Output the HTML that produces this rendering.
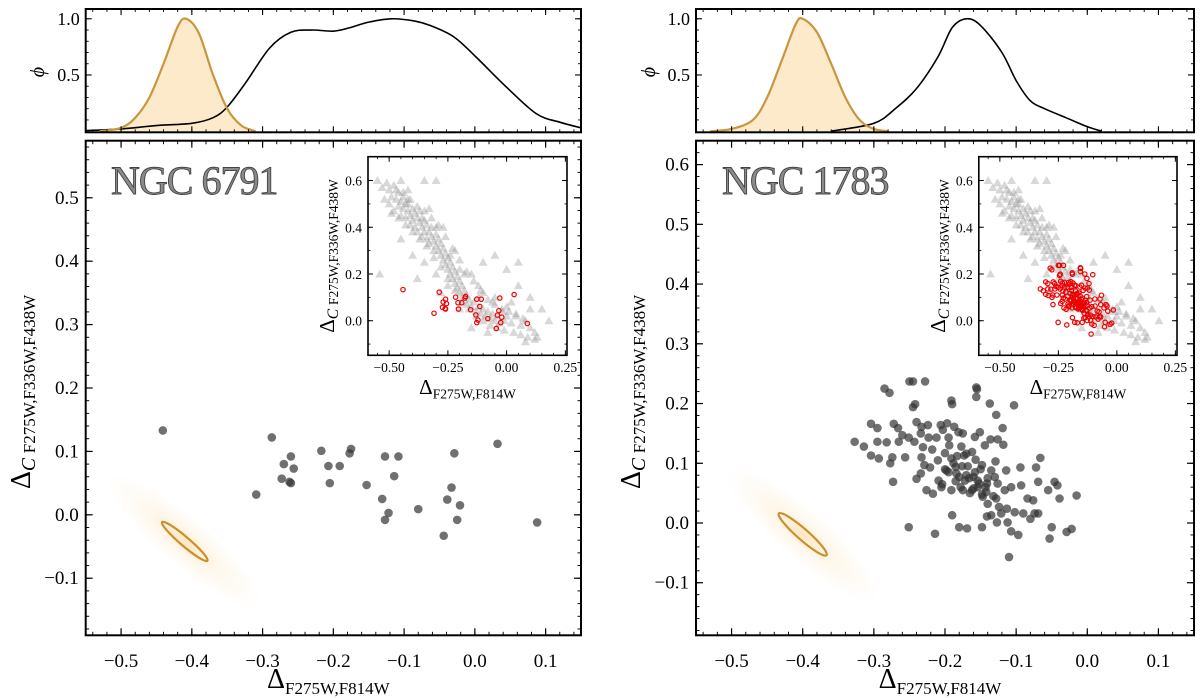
<!DOCTYPE html>
<html><head><meta charset="utf-8"><style>
html,body{margin:0;padding:0;background:#fff;}
svg{display:block;font-family:"Liberation Serif","DejaVu Serif",serif;}
</style></head><body>
<svg id="fig" width="1200" height="698" viewBox="0 0 1200 698" xmlns="http://www.w3.org/2000/svg">
<defs>
<radialGradient id="cloudGrad" cx="50%" cy="50%" r="50%">
<stop offset="0%" stop-color="#f6b94a" stop-opacity="0.35"/>
<stop offset="40%" stop-color="#f8c56a" stop-opacity="0.14"/>
<stop offset="100%" stop-color="#fbd99a" stop-opacity="0"/>
</radialGradient>
<clipPath id="clipL"><rect x="85.7" y="140.7" width="495.3" height="494.6"/></clipPath>
<clipPath id="clipR"><rect x="696" y="140.7" width="498" height="494.6"/></clipPath>
<clipPath id="clipTL"><rect x="85.7" y="9" width="495.3" height="123.3"/></clipPath>
<clipPath id="clipTR"><rect x="696" y="9" width="498" height="123.3"/></clipPath>
</defs>
</svg>
<script>
// ---------- data ----------
const mainXTicks=[-0.5,-0.4,-0.3,-0.2,-0.1,0.0,0.1];
const leftYTicks=[-0.1,0.0,0.1,0.2,0.3,0.4,0.5];
const rightYTicks=[-0.1,0.0,0.1,0.2,0.3,0.4,0.5,0.6];
const phiTicks=[0.5,1.0];
const insetXTicks=[-0.5,-0.25,0.0,0.25];
const insetYTicks=[0.0,0.2,0.4,0.6];

const ngc6791X=[-0.441,-0.287,-0.309,-0.270,-0.260,-0.256,-0.273,-0.262,-0.260,-0.217,-0.207,-0.205,-0.191,-0.177,-0.175,-0.153,-0.127,-0.108,-0.114,-0.131,-0.127,-0.122,-0.080,-0.044,-0.039,-0.033,-0.029,-0.021,-0.025,0.032,0.088];
const ngc6791Y=[0.133,0.122,0.032,0.080,0.092,0.073,0.057,0.052,0.050,0.101,0.077,0.050,0.077,0.097,0.104,0.047,0.092,0.092,0.061,0.025,-0.008,0.003,0.009,-0.033,0.024,0.043,0.097,0.015,-0.008,0.112,-0.012];

const ngc1783X=[-0.327,-0.314,-0.304,-0.304,-0.295,-0.295,-0.293,-0.285,-0.278,-0.282,-0.272,-0.266,-0.274,-0.277,-0.273,-0.265,-0.260,-0.256,-0.251,-0.251,-0.245,-0.242,-0.243,-0.240,-0.240,-0.234,-0.234,-0.233,-0.231,-0.233,-0.229,-0.226,-0.224,-0.223,-0.221,-0.218,-0.217,-0.214,-0.212,-0.209,-0.206,-0.203,-0.200,-0.204,-0.198,-0.197,-0.195,-0.194,-0.191,-0.190,-0.191,-0.191,-0.190,-0.187,-0.185,-0.184,-0.181,-0.180,-0.180,-0.177,-0.175,-0.173,-0.172,-0.175,-0.169,-0.170,-0.168,-0.162,-0.162,-0.160,-0.156,-0.156,-0.158,-0.157,-0.154,-0.154,-0.151,-0.148,-0.148,-0.147,-0.144,-0.143,-0.141,-0.141,-0.140,-0.137,-0.136,-0.135,-0.135,-0.130,-0.128,-0.126,-0.128,-0.127,-0.129,-0.126,-0.124,-0.121,-0.119,-0.118,-0.116,-0.114,-0.113,-0.112,-0.110,-0.107,-0.107,-0.103,-0.102,-0.097,-0.094,-0.093,-0.090,-0.084,-0.080,-0.076,-0.074,-0.072,-0.069,-0.069,-0.066,-0.055,-0.053,-0.050,-0.046,-0.042,-0.039,-0.029,-0.022,-0.015,-0.250,-0.245,-0.228,-0.155,-0.200,-0.195,-0.185,-0.178,-0.170,-0.165,-0.160,-0.152,-0.148,-0.142,-0.188,-0.176,-0.166,-0.158,-0.150,-0.210,-0.140,-0.132,-0.205,-0.183];
const ngc1783Y=[0.136,0.128,0.166,0.113,0.159,0.136,0.108,0.225,0.218,0.135,0.166,0.159,0.110,0.100,0.069,0.136,0.147,0.110,-0.007,0.143,0.194,0.199,0.136,0.169,0.074,0.150,0.083,0.161,0.127,0.110,0.097,0.055,0.164,0.143,0.093,0.123,0.049,-0.018,0.143,0.071,0.164,0.156,0.117,0.065,0.088,0.167,0.143,0.130,0.205,0.199,0.108,0.055,0.013,0.161,0.094,0.083,0.152,-0.007,0.077,0.128,0.150,0.113,0.071,0.055,-0.009,0.116,0.095,0.119,0.055,0.077,0.227,0.211,0.144,0.106,0.071,0.060,0.152,0.097,-0.007,0.044,0.130,0.060,0.011,0.066,0.032,0.200,0.140,0.088,0.013,0.077,0.181,0.140,0.041,0.001,0.103,0.066,0.027,0.016,0.159,0.131,0.055,0.088,0.024,0.001,-0.057,-0.014,0.060,0.197,0.018,-0.020,0.093,0.063,0.016,0.041,0.007,0.038,0.016,0.093,0.069,0.016,0.109,0.055,-0.026,-0.007,0.069,0.063,0.041,-0.015,-0.010,0.046,0.237,0.237,0.237,0.224,0.090,0.085,0.070,0.060,0.080,0.050,0.058,0.066,0.048,0.052,0.100,0.095,0.075,0.085,0.090,0.105,0.075,0.045,0.060,0.112];

const triX=[-0.55,-0.53,-0.52,-0.50,-0.50,-0.49,-0.48,-0.48,-0.47,-0.46,-0.46,-0.45,-0.45,-0.44,-0.44,-0.43,-0.43,-0.42,-0.42,-0.41,-0.41,-0.40,-0.40,-0.39,-0.39,-0.38,-0.38,-0.37,-0.37,-0.36,-0.36,-0.35,-0.35,-0.34,-0.34,-0.33,-0.33,-0.32,-0.32,-0.31,-0.31,-0.30,-0.30,-0.29,-0.29,-0.28,-0.28,-0.27,-0.27,-0.26,-0.26,-0.25,-0.25,-0.24,-0.24,-0.23,-0.23,-0.22,-0.22,-0.21,-0.21,-0.20,-0.20,-0.19,-0.19,-0.18,-0.17,-0.17,-0.16,-0.15,-0.14,-0.13,-0.12,-0.11,-0.10,-0.09,-0.08,-0.07,-0.06,-0.05,-0.04,-0.03,-0.02,-0.01,0.00,0.02,0.04,0.06,0.08,0.10,0.12,0.13,-0.54,-0.45,-0.35,-0.30,-0.40,-0.38,-0.30,-0.25,-0.20,-0.15,-0.10,-0.05,0.00,0.05,0.05,0.10,0.18,0.12,0.08,-0.08,-0.45,-0.42,-0.33,-0.27,-0.22,-0.15,-0.12,-0.05,0.02,-0.28,-0.35,-0.20,-0.10,0.10,0.15,
-0.51,-0.47,-0.44,-0.41,-0.38,-0.35,-0.32,-0.29,-0.26,-0.23,-0.20,-0.17,-0.14,-0.11,-0.08,-0.05,-0.02,0.01,0.04,0.07,-0.49,-0.46,-0.43,-0.40,-0.37,-0.34,-0.31,-0.28,-0.25,-0.22,-0.19,-0.16,-0.13,-0.10,-0.07,-0.04,-0.01,0.03,0.06,0.09,-0.42,-0.36,-0.30,-0.24,-0.18,-0.12,-0.06,0.00];
const triY=[0.60,0.57,0.52,0.56,0.50,0.53,0.58,0.47,0.52,0.55,0.49,0.51,0.45,0.53,0.48,0.50,0.44,0.47,0.52,0.45,0.41,0.48,0.43,0.46,0.40,0.44,0.38,0.42,0.47,0.40,0.36,0.43,0.38,0.41,0.35,0.38,0.33,0.40,0.36,0.34,0.30,0.37,0.32,0.30,0.35,0.28,0.33,0.26,0.31,0.29,0.24,0.27,0.22,0.25,0.20,0.23,0.18,0.21,0.16,0.19,0.14,0.17,0.12,0.15,0.10,0.13,0.11,0.07,0.09,0.06,0.08,0.04,0.06,0.03,0.05,0.02,0.04,0.01,0.03,0.00,0.02,-0.01,0.04,0.00,0.02,-0.01,0.03,-0.02,0.00,-0.03,-0.05,-0.07,0.20,0.60,0.60,0.60,0.28,0.18,0.20,0.15,0.05,-0.03,0.25,0.28,0.22,0.15,0.25,0.05,0.00,-0.08,-0.09,-0.05,0.35,0.56,0.48,0.40,0.30,0.20,0.15,0.10,0.08,0.12,0.25,0.22,0.12,0.10,0.05,
0.59,0.56,0.55,0.52,0.49,0.47,0.44,0.41,0.36,0.31,0.26,0.21,0.17,0.13,0.09,0.07,0.05,0.04,0.02,0.01,0.46,0.44,0.41,0.38,0.35,0.32,0.27,0.23,0.18,0.13,0.08,0.05,0.02,0.00,-0.02,-0.03,-0.04,-0.05,-0.06,-0.07,0.50,0.44,0.40,0.28,0.20,0.10,0.08,0.06];

const phiLX=[-0.55,-0.50,-0.45,-0.40,-0.37,-0.35,-0.324,-0.29,-0.26,-0.23,-0.20,-0.177,-0.15,-0.118,-0.085,-0.063,-0.03,0.00,0.045,0.087,0.12,0.15];
const phiLY=[0.005,0.02,0.05,0.07,0.12,0.215,0.43,0.74,0.88,0.90,0.89,0.92,0.97,1.0,0.98,0.94,0.84,0.67,0.39,0.155,0.08,0.03];
const fidLX=[-0.53,-0.50,-0.48,-0.46,-0.44,-0.42,-0.408,-0.39,-0.37,-0.35,-0.33,-0.31];
const fidLY=[0,0.03,0.12,0.30,0.60,0.93,1.0,0.87,0.50,0.20,0.05,0];
const phiRX=[-0.36,-0.30,-0.27,-0.24,-0.21,-0.19,-0.17,-0.15,-0.12,-0.10,-0.08,-0.06,-0.03,0.00,0.02];
const phiRY=[0,0.07,0.20,0.38,0.66,0.92,1.0,0.94,0.70,0.45,0.27,0.20,0.12,0.04,0];
const fidRX=[-0.53,-0.50,-0.47,-0.45,-0.43,-0.41,-0.40,-0.38,-0.36,-0.34,-0.32,-0.30,-0.28];
const fidRY=[0,0.02,0.10,0.30,0.62,0.95,1.0,0.88,0.60,0.30,0.10,0.02,0];

const ellipseL={cx:-0.410,cy:-0.042,x1:-0.442,y1:-0.012,x2:-0.378,y2:-0.073};
const ellipseR={cx:-0.400,cy:-0.019,x1:-0.433,y1:0.016,x2:-0.366,y2:-0.054};

// ---------- helpers ----------
const NS='http://www.w3.org/2000/svg';
const svg=document.getElementById('fig');
function mk(tag,parent){const e=document.createElementNS(NS,tag);parent.appendChild(e);return e;}
function lin(d0,d1,p0,p1){return v=>p0+(v-d0)/(d1-d0)*(p1-p0);}
function seq(a,b,s){const r=[];for(let i=0;a+i*s<=b+1e-9;i++)r.push(+(a+i*s).toFixed(4));return r;}
function fmt(v,n){return v.toFixed(n).replace('-','\u2212');}
function curvePath(pts){
  let d='M'+pts[0][0]+','+pts[0][1];
  for(let i=0;i<pts.length-1;i++){
    const p0=pts[Math.max(0,i-1)],p1=pts[i],p2=pts[i+1],p3=pts[Math.min(pts.length-1,i+2)];
    const c1x=p1[0]+(p2[0]-p0[0])/6,c1y=p1[1]+(p2[1]-p0[1])/6;
    const c2x=p2[0]-(p3[0]-p1[0])/6,c2y=p2[1]-(p3[1]-p1[1])/6;
    d+=' C'+c1x+','+c1y+' '+c2x+','+c2y+' '+p2[0]+','+p2[1];
  }
  return d;
}
function ticks(g,box,sx,sy,xMaj,xMin,yMaj,yMin,maj,min,lw){
  const add=(x1,y1,x2,y2,w,nm)=>{const l=mk('line',g);l.setAttribute('x1',x1);l.setAttribute('y1',y1);l.setAttribute('x2',x2);l.setAttribute('y2',y2);l.setAttribute('stroke','#000');l.setAttribute('stroke-width',w);
    
    };
  xMaj.forEach(v=>{const x=sx(v);add(x,box.y1,x,box.y1-maj,lw,'x-major-tick');add(x,box.y0,x,box.y0+maj,lw,'x-major-tick');});
  xMin.forEach(v=>{const x=sx(v);if(x<box.x0+1||x>box.x1-1)return;add(x,box.y1,x,box.y1-min,lw*0.8,'x-minor-tick');add(x,box.y0,x,box.y0+min,lw*0.8,'x-minor-tick');});
  yMaj.forEach(v=>{const y=sy(v);add(box.x0,y,box.x0+maj,y,lw,'y-major-tick');add(box.x1,y,box.x1-maj,y,lw,'y-major-tick');});
  yMin.forEach(v=>{const y=sy(v);if(y<box.y0+1||y>box.y1-1)return;add(box.x0,y,box.x0+min,y,lw*0.8,'y-minor-tick');add(box.x1,y,box.x1-min,y,lw*0.8,'y-minor-tick');});
}
function frame(g,box,w,nm){const r=mk('rect',g);r.setAttribute('x',box.x0);r.setAttribute('y',box.y0);r.setAttribute('width',box.x1-box.x0);r.setAttribute('height',box.y1-box.y0);r.setAttribute('fill','none');r.setAttribute('stroke','#000');r.setAttribute('stroke-width',w);
  
  }
function text(g,x,y,str,size,anchor,nm){const t=mk('text',g);t.setAttribute('x',x);t.setAttribute('y',y);t.setAttribute('font-size',size);t.setAttribute('text-anchor',anchor);t.textContent=str;
  
  return t;}
function deltaLabel(g,x,y,rot,bigSize,subSize,italicC,sub,nm){
  const t=mk('text',g);t.setAttribute('x',x);t.setAttribute('y',y);t.setAttribute('text-anchor','middle');
  if(rot)t.setAttribute('transform','rotate(-90 '+x+' '+y+')');
  
  
  const a=mk('tspan',t);a.setAttribute('font-size',bigSize);a.textContent='\u0394';
  if(italicC){const c=mk('tspan',t);c.setAttribute('font-size',subSize*1.15);c.setAttribute('font-style','italic');c.setAttribute('dy',subSize*0.3);c.textContent='C ';
    const s=mk('tspan',t);s.setAttribute('font-size',subSize);s.textContent=sub;}
  else{const s=mk('tspan',t);s.setAttribute('font-size',subSize);s.setAttribute('dy',subSize*0.35);s.textContent=sub;}
}

function panel(cfg){
  const root=mk('g',svg);
  
  
  const xd=[-0.55,0.15];
  const tb=cfg.top;const tx=lin(xd[0],xd[1],tb.x0,tb.x1);const ty=lin(-0.01,1.087,tb.y1,tb.y0);
  const tg=mk('g',root);
  
  
  const cg=mk('g',tg);cg.setAttribute('clip-path','url(#'+cfg.topClip+')');
  const fpts=cfg.fidX.map((v,i)=>[tx(v),ty(cfg.fidY[i])]);
  const fd=curvePath(fpts);
  const ff=mk('path',cg);ff.setAttribute('d',fd+' L'+fpts[fpts.length-1][0]+','+tb.y1+' L'+fpts[0][0]+','+tb.y1+' Z');ff.setAttribute('fill','#fdeacb');ff.setAttribute('stroke','none');
  
  
  const bpts=cfg.phiX.map((v,i)=>[tx(v),ty(cfg.phiY[i])]);
  const bl=mk('path',cg);bl.setAttribute('d',curvePath(bpts));bl.setAttribute('fill','none');bl.setAttribute('stroke','#000');bl.setAttribute('stroke-width',1.6);
  
  
  const fl=mk('path',cg);fl.setAttribute('d',fd);fl.setAttribute('fill','none');fl.setAttribute('stroke','#c8963e');fl.setAttribute('stroke-width',2.2);
  
  
  ticks(tg,tb,tx,ty,mainXTicks,seq(-0.54,0.14,0.02),phiTicks,seq(0.1,1.0,0.1),6,3,1.1);
  frame(tg,tb,2,'density-frame');
  phiTicks.forEach(v=>text(tg,tb.x0-6,ty(v)+6,v.toFixed(1),18,'end','phi-tick-label'));
  const ph=text(tg,cfg.phiLabelX,72,'\u03d5',20,'middle','phi-axis-title');ph.setAttribute('font-style','italic');ph.setAttribute('transform','rotate(-90 '+cfg.phiLabelX+' 72)');

  const mb=cfg.main;const mx=lin(xd[0],xd[1],mb.x0,mb.x1);const my=lin(cfg.yd[0],cfg.yd[1],mb.y1,mb.y0);
  const mg=mk('g',root);
  
  
  const clipG=mk('g',mg);clipG.setAttribute('clip-path','url(#'+cfg.mainClip+')');
  const E=cfg.ell;
  const ex1=mx(E.x1),ey1=my(E.y1),ex2=mx(E.x2),ey2=my(E.y2);
  const ecx=mx(E.cx),ecy=my(E.cy);
  const ang=Math.atan2(ey2-ey1,ex2-ex1)*180/Math.PI;const half=Math.hypot(ex2-ex1,ey2-ey1)/2;
  const cl=mk('ellipse',clipG);cl.setAttribute('cx',ecx);cl.setAttribute('cy',ecy);cl.setAttribute('rx',half*cfg.cloudScale);cl.setAttribute('ry',half*cfg.cloudScale*0.25);cl.setAttribute('fill','url(#cloudGrad)');cl.setAttribute('transform','rotate('+ang+' '+ecx+' '+ecy+')');
  
  
  const el=mk('ellipse',clipG);el.setAttribute('cx',ecx);el.setAttribute('cy',ecy);el.setAttribute('rx',half);el.setAttribute('ry',cfg.minor);el.setAttribute('fill','none');el.setAttribute('stroke','#c8902e');el.setAttribute('stroke-width',2.2);el.setAttribute('transform','rotate('+ang+' '+ecx+' '+ecy+')');
  
  
  cfg.sx.forEach((v,i)=>{const c=mk('circle',clipG);c.setAttribute('cx',mx(v));c.setAttribute('cy',my(cfg.sy[i]));c.setAttribute('r',4.3);c.setAttribute('fill','#333');c.setAttribute('fill-opacity',0.7);
    
    });
  ticks(mg,mb,mx,my,mainXTicks,seq(-0.54,0.14,0.02),cfg.yTicks,seq(-0.18,0.62,0.02),7,3.5,1.2);
  frame(mg,mb,2,'main-frame');
  mainXTicks.forEach(v=>text(mg,mx(v),667,fmt(v,1),19,'middle','x-tick-label'));
  cfg.yTicks.forEach(v=>text(mg,mb.x0-7,my(v)+6,fmt(v,1),19,'end','y-tick-label'));
  const tt=text(mg,cfg.titleX,194,cfg.title,40,'start','cluster-name');tt.setAttribute('fill','#8a8a8a');tt.setAttribute('stroke','#444');tt.setAttribute('stroke-width',0.9);tt.setAttribute('letter-spacing','-1');
  deltaLabel(mg,(mb.x0+mb.x1)/2-5,688,false,28,17,false,'F275W,F814W','x-axis-title');
  deltaLabel(mg,cfg.yLabelX,392,true,28,17,true,'F275W,F336W,F438W','y-axis-title');

  const ib=cfg.inset;const ix=lin(-0.59,0.257,ib.x0,ib.x1);const iy=lin(-0.148,0.702,ib.y1,ib.y0);
  const ig=mk('g',mg);
  
  
  const bg=mk('rect',ig);bg.setAttribute('x',ib.x0);bg.setAttribute('y',ib.y0);bg.setAttribute('width',ib.x1-ib.x0);bg.setAttribute('height',ib.y1-ib.y0);bg.setAttribute('fill','#fff');
  triX.forEach((v,i)=>{const x=ix(v),y=iy(triY[i]);const p=mk('polygon',ig);p.setAttribute('points',x+','+(y-4.5)+' '+(x-4.5)+','+(y+3.5)+' '+(x+4.5)+','+(y+3.5));p.setAttribute('fill','#8f8f8f');p.setAttribute('fill-opacity',0.35);
    
    });
  cfg.sx.forEach((v,i)=>{const c=mk('circle',ig);c.setAttribute('cx',ix(v));c.setAttribute('cy',iy(cfg.sy[i]));c.setAttribute('r',2.2);c.setAttribute('fill','none');c.setAttribute('stroke','#ee0000');c.setAttribute('stroke-width',1.2);
    
    });
  ticks(ig,ib,ix,iy,insetXTicks,seq(-0.55,0.25,0.05),insetYTicks,seq(-0.1,0.7,0.1),5,2.5,1);
  frame(ig,ib,1.6,'inset-frame');
  insetXTicks.forEach(v=>text(ig,ix(v),372,fmt(v,2),13.5,'middle','inset-x-tick-label'));
  insetYTicks.forEach(v=>text(ig,ib.x0-6,iy(v)+5,fmt(v,1),13.5,'end','inset-y-tick-label'));
  deltaLabel(ig,(ib.x0+ib.x1)/2,394,false,21,13.5,false,'F275W,F814W','inset-x-axis-title');
  deltaLabel(ig,ib.x0-34,256,true,21,13.5,true,'F275W,F336W,F438W','inset-y-axis-title');
}

panel({name:'ngc6791-panel',top:{x0:85.7,x1:581,y0:9,y1:132.3},topClip:'clipTL',main:{x0:85.7,x1:581,y0:140.7,y1:635.3},mainClip:'clipL',
  yd:[-0.19,0.59],yTicks:leftYTicks,inset:{x0:368,x1:567,y0:156.7,y1:355.3},
  phiX:phiLX,phiY:phiLY,fidX:fidLX,fidY:fidLY,sx:ngc6791X,sy:ngc6791Y,ell:ellipseL,minor:4.5,cloudScale:3.4,
  title:'NGC 6791',titleX:111,yLabelX:30,phiLabelX:44});
panel({name:'ngc1783-panel',top:{x0:696,x1:1194,y0:9,y1:132.3},topClip:'clipTR',main:{x0:696,x1:1194,y0:140.7,y1:635.3},mainClip:'clipR',
  yd:[-0.188,0.640],yTicks:rightYTicks,inset:{x0:978.8,x1:1177,y0:156.7,y1:355.3},
  phiX:phiRX,phiY:phiRY,fidX:fidRX,fidY:fidRY,sx:ngc1783X,sy:ngc1783Y,ell:ellipseR,minor:5.5,cloudScale:3.2,
  title:'NGC 1783',titleX:722,yLabelX:640,phiLabelX:655});
</script>
</body></html>
